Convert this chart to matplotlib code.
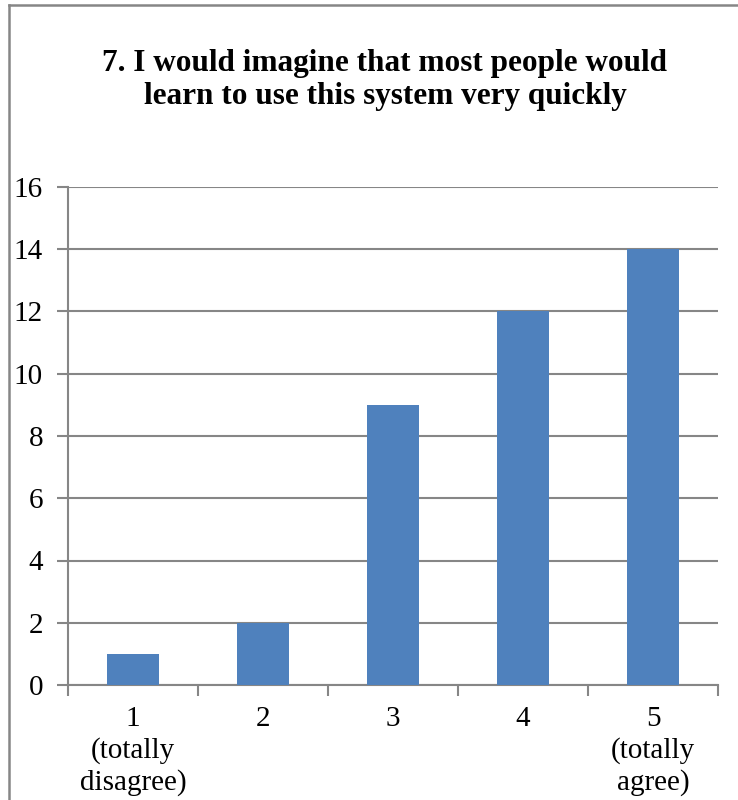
import matplotlib
matplotlib.use("Agg")
import matplotlib.pyplot as plt
from matplotlib.lines import Line2D

# Survey responses for statement 7
categories = ["1\n(totally\ndisagree)", "2", "3", "4", "5\n(totally\nagree)"]
counts = [1, 2, 9, 12, 14]
y_ticks = [0, 2, 4, 6, 8, 10, 12, 14, 16]
title = "7. I would imagine that most people would\nlearn to use this system very quickly"

plt.rcParams["font.family"] = ["Liberation Serif", "DejaVu Serif"]

W, H = 738, 800
fig = plt.figure(figsize=(W / 100, H / 100), dpi=100)
ax = fig.add_axes([68 / W, (H - 685) / H, 650 / W, (685 - 187) / H])

bar_color = "#4F81BD"
grid_color = "#868686"

x = list(range(len(counts)))
ax.bar(x, counts, width=0.4, color=bar_color, zorder=3)

ax.set_xlim(-0.5, len(counts) - 0.5)
ax.set_ylim(0, 16)
ax.set_yticks(y_ticks)
ax.set_yticklabels([str(v) for v in y_ticks])
ax.yaxis.grid(True, color=grid_color, linewidth=1.5, zorder=0)

# category labels at bar centres, tick marks on category boundaries
ax.set_xticks(x)
ax.set_xticklabels(categories, linespacing=1.25)
ax.set_xticks([i - 0.5 for i in range(len(counts) + 1)], minor=True)
ax.tick_params(axis="x", which="major", length=0, pad=15, labelsize=21)
ax.tick_params(axis="x", which="minor", length=8, width=1.5, color=grid_color,
               direction="out")
ax.tick_params(axis="y", length=8, width=1.5, color=grid_color, pad=10,
               labelsize=21)

for side in ("top", "right"):
    ax.spines[side].set_visible(False)
for side in ("left", "bottom"):
    ax.spines[side].set_color(grid_color)
    ax.spines[side].set_linewidth(1.5)

fig.text(385 / W, 1 - 80 / H, title, ha="center", va="center",
         fontsize=22.5, fontweight="bold", linespacing=1.2)

# chart area border (left and top edges)
fig.add_artist(Line2D([9 / W, 9 / W], [0, 1 - 5 / H], transform=fig.transFigure,
                      color=grid_color, linewidth=1.8))
fig.add_artist(Line2D([9 / W, 1], [1 - 5 / H, 1 - 5 / H], transform=fig.transFigure,
                      color=grid_color, linewidth=1.8))

fig.savefig("out.png", dpi=100)
